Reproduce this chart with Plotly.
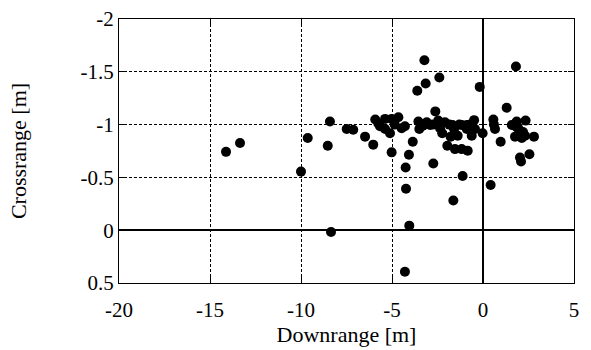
import plotly.graph_objects as go

downrange = [
    -14.12, -13.35, -10.0, -9.63, -8.41, -8.53, -8.35,
    -3.22, 1.81, -2.40, -3.15, -3.61, -0.18, 1.30, -2.62,
    -5.92, -5.38, -5.02, -4.65, -5.66, -5.38, -5.11, -4.47, -4.29,
    -7.49, -7.13, -6.48, -6.03, -5.02, -3.86, -4.07, -4.25, -4.23, -4.05,
    -2.73, -3.55, -3.50, -3.09, -2.91, -2.46, -2.09, -2.36, -2.24,
    -1.67, -1.59, -1.17, -0.89, -0.49, -0.89, -0.44, -0.62, -0.02,
    -1.78, -1.39, -1.96, -1.54, -1.17, -0.84, -1.12, -1.63, 0.42,
    0.57, 0.66, 0.97, 1.58, 1.85, 2.34, 1.76, 2.13, 2.31, 2.80,
    2.03, 2.09, 2.55, 1.85, -4.29,
    -5.75, -4.85, -3.30, -2.75, -1.30, -0.70, 0.60, 1.95, 2.20, -1.85
]
crossrange = [
    -0.742, -0.825, -0.555, -0.873, -1.03, -0.80, 0.017,
    -1.61, -1.55, -1.446, -1.39, -1.32, -1.357, -1.16, -1.125,
    -1.048, -1.054, -1.054, -1.07, -0.985, -0.959, -0.918, -0.966, -0.985,
    -0.959, -0.952, -0.886, -0.81, -0.737, -0.838, -0.714, -0.594, -0.393, -0.043,
    -0.632, -1.029, -0.959, -1.023, -0.997, -1.038, -1.023, -0.966, -0.918,
    -0.997, -0.959, -0.997, -0.997, -1.042, -0.959, -0.959, -0.895, -0.918,
    -0.886, -0.895, -0.80, -0.768, -0.768, -0.752, -0.513, -0.281, -0.428,
    -1.048, -0.959, -0.838, -0.997, -1.029, -1.038, -0.886, -0.873, -0.895, -0.886,
    -0.689, -0.651, -0.72, -0.975, 0.393,
    -1.01, -1.0, -0.99, -1.0, -1.0, -1.0, -1.0, -0.96, -0.93, -1.0
]

x_ticks = [-20, -15, -10, -5, 0, 5]
x_ticktext = ["-20", "-15", "-10", "-5", "0", "5"]
y_ticks = [-2, -1.5, -1, -0.5, 0, 0.5]
y_ticktext = ["-2", "-1.5", "-1", "-0.5", "0", "0.5"]

serif = "Liberation Serif, Times New Roman, serif"
tick_font = dict(family=serif, size=21, color="black")
title_font = dict(family=serif, size=22, color="black")

fig = go.Figure()
fig.add_trace(go.Scatter(
    x=downrange, y=crossrange, mode="markers",
    marker=dict(color="black", size=10, line=dict(width=0)),
    showlegend=False,
))

axis_common = dict(
    showline=True, linecolor="black", linewidth=1, mirror="allticks",
    ticks="inside", ticklen=6, tickcolor="black", tickwidth=1,
    showgrid=True, gridcolor="black", gridwidth=1, griddash="3px,2px",
    zeroline=True, zerolinecolor="black", zerolinewidth=1.5,
    tickfont=tick_font, title_font=title_font, automargin=False,
)

fig.update_layout(
    width=591, height=350,
    margin=dict(l=119, r=17, t=19, b=67),
    paper_bgcolor="white", plot_bgcolor="white",
    font=tick_font,
    xaxis=dict(range=[-20, 5], tickvals=x_ticks, ticktext=x_ticktext,
               title=dict(text="Downrange [m]", standoff=2),
               ticklabelstandoff=8, **axis_common),
    yaxis=dict(range=[0.5, -2], tickvals=y_ticks, ticktext=y_ticktext,
               title=dict(text="Crossrange [m]", standoff=47), ticklabelstandoff=0, **axis_common),
)

fig.write_html("out.html")
